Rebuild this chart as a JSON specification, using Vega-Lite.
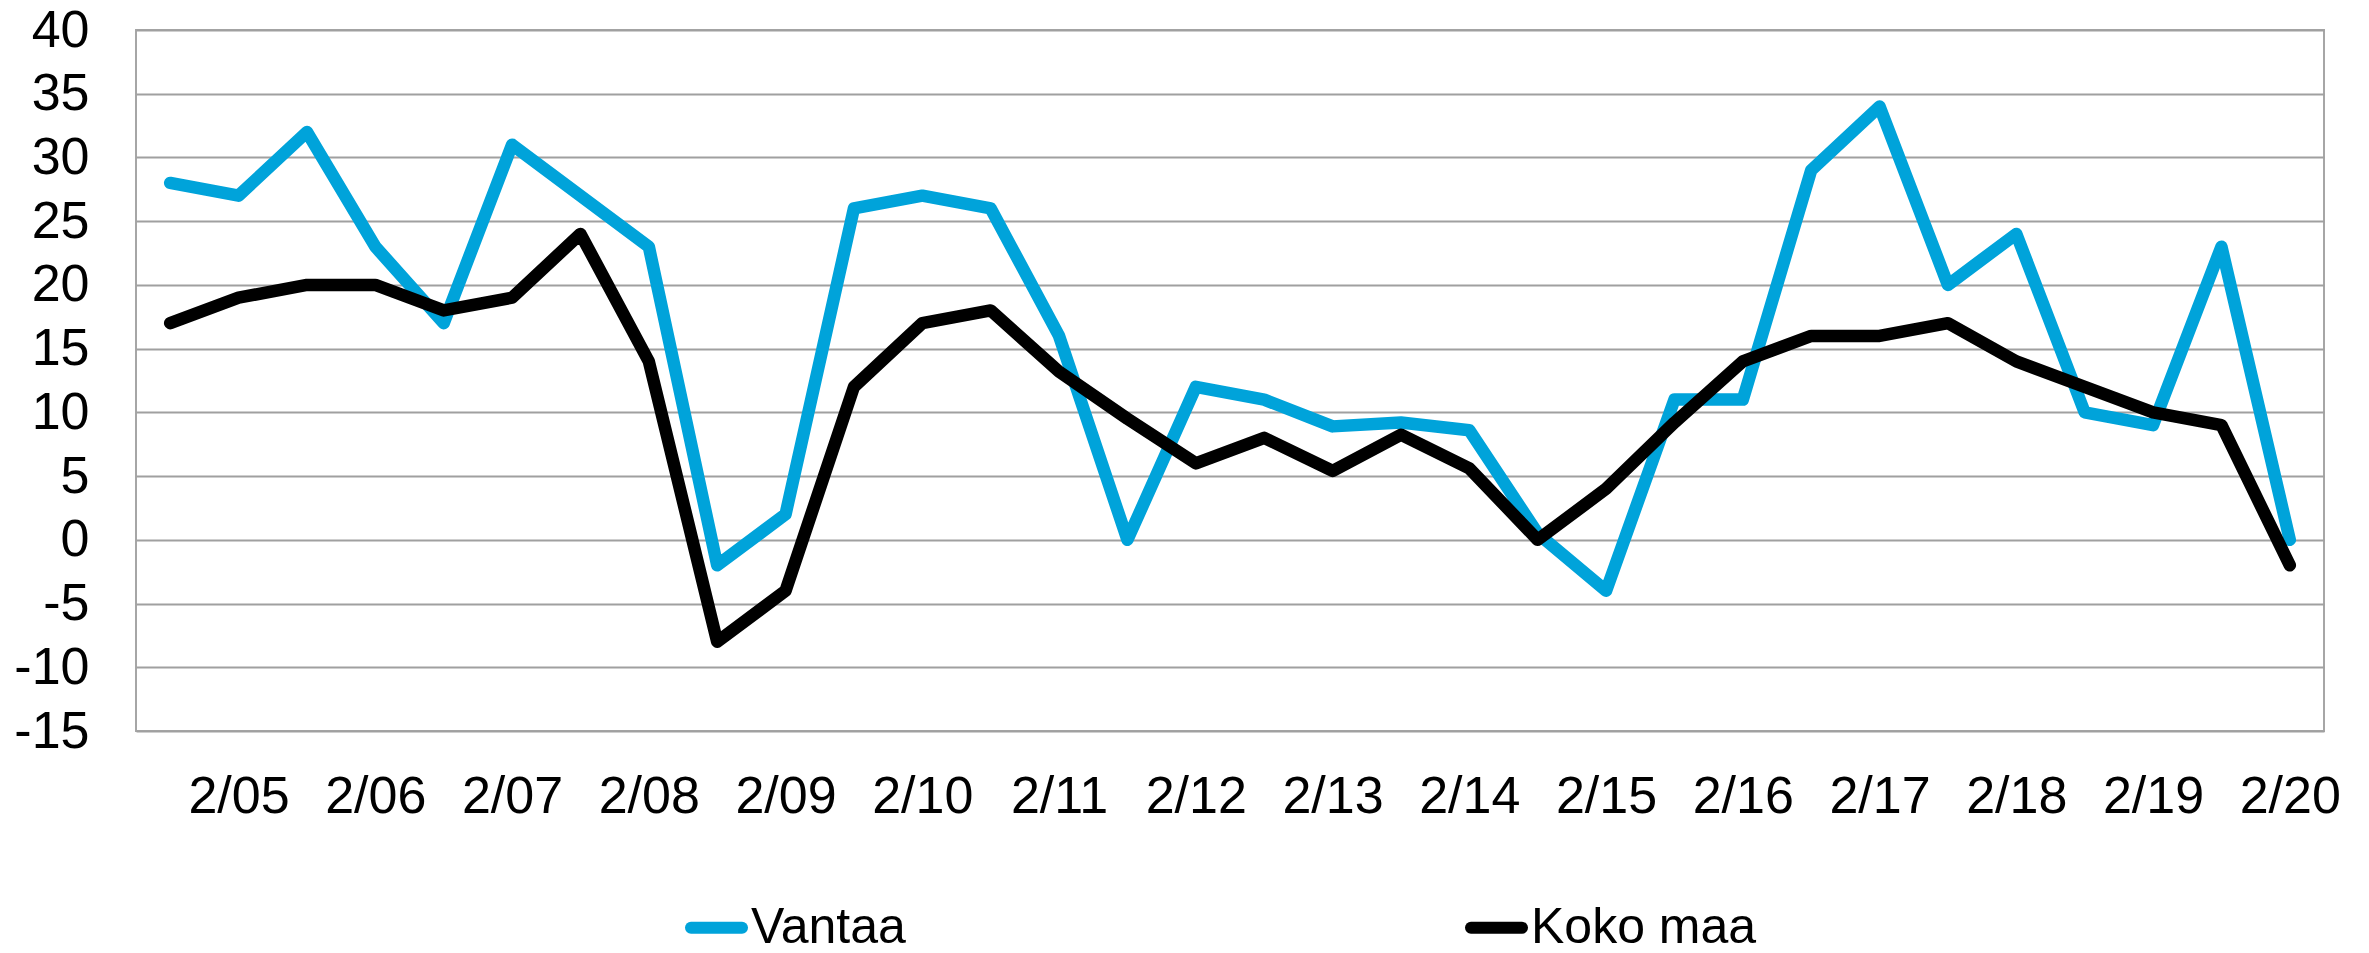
{
  "$schema": "https://vega.github.io/schema/vega-lite/v6.json",
  "width": 2188,
  "height": 701,
  "autosize": "none",
  "padding": {"left": 136, "top": 30, "right": 45, "bottom": 222},
  "background": "white",
  "config": {
    "font": "Liberation Sans",
    "view": {"stroke": "#A6A6A6", "strokeWidth": 2}
  },
  "datasets": {
    "rows": [
      {"p":"1/05","s":"Vantaa","v":28},{"p":"2/05","s":"Vantaa","v":27},
      {"p":"1/06","s":"Vantaa","v":32},{"p":"2/06","s":"Vantaa","v":23},
      {"p":"1/07","s":"Vantaa","v":17},{"p":"2/07","s":"Vantaa","v":31},
      {"p":"1/08","s":"Vantaa","v":27},{"p":"2/08","s":"Vantaa","v":23},
      {"p":"1/09","s":"Vantaa","v":-2},{"p":"2/09","s":"Vantaa","v":2},
      {"p":"1/10","s":"Vantaa","v":26},{"p":"2/10","s":"Vantaa","v":27},
      {"p":"1/11","s":"Vantaa","v":26},{"p":"2/11","s":"Vantaa","v":16},
      {"p":"1/12","s":"Vantaa","v":0},{"p":"2/12","s":"Vantaa","v":12},
      {"p":"1/13","s":"Vantaa","v":11},{"p":"2/13","s":"Vantaa","v":8.9},
      {"p":"1/14","s":"Vantaa","v":9.2},{"p":"2/14","s":"Vantaa","v":8.6},
      {"p":"1/15","s":"Vantaa","v":0.5},{"p":"2/15","s":"Vantaa","v":-4},
      {"p":"1/16","s":"Vantaa","v":11},{"p":"2/16","s":"Vantaa","v":11},
      {"p":"1/17","s":"Vantaa","v":29},{"p":"2/17","s":"Vantaa","v":34},
      {"p":"1/18","s":"Vantaa","v":20},{"p":"2/18","s":"Vantaa","v":24},
      {"p":"1/19","s":"Vantaa","v":10},{"p":"2/19","s":"Vantaa","v":9},
      {"p":"1/20","s":"Vantaa","v":23},{"p":"2/20","s":"Vantaa","v":0},
      {"p":"1/05","s":"Koko maa","v":17},{"p":"2/05","s":"Koko maa","v":19},
      {"p":"1/06","s":"Koko maa","v":20},{"p":"2/06","s":"Koko maa","v":20},
      {"p":"1/07","s":"Koko maa","v":18},{"p":"2/07","s":"Koko maa","v":19},
      {"p":"1/08","s":"Koko maa","v":24},{"p":"2/08","s":"Koko maa","v":14},
      {"p":"1/09","s":"Koko maa","v":-8},{"p":"2/09","s":"Koko maa","v":-4},
      {"p":"1/10","s":"Koko maa","v":12},{"p":"2/10","s":"Koko maa","v":17},
      {"p":"1/11","s":"Koko maa","v":18},{"p":"2/11","s":"Koko maa","v":13.2},
      {"p":"1/12","s":"Koko maa","v":9.5},{"p":"2/12","s":"Koko maa","v":6},
      {"p":"1/13","s":"Koko maa","v":8},{"p":"2/13","s":"Koko maa","v":5.4},
      {"p":"1/14","s":"Koko maa","v":8.25},{"p":"2/14","s":"Koko maa","v":5.6},
      {"p":"1/15","s":"Koko maa","v":0},{"p":"2/15","s":"Koko maa","v":4},
      {"p":"1/16","s":"Koko maa","v":9.2},{"p":"2/16","s":"Koko maa","v":14},
      {"p":"1/17","s":"Koko maa","v":16},{"p":"2/17","s":"Koko maa","v":16},
      {"p":"1/18","s":"Koko maa","v":17},{"p":"2/18","s":"Koko maa","v":14},
      {"p":"1/19","s":"Koko maa","v":12},{"p":"2/19","s":"Koko maa","v":10},
      {"p":"1/20","s":"Koko maa","v":9},{"p":"2/20","s":"Koko maa","v":-2}
    ]
  },
  "data": {"name": "rows"},
  "mark": {"type": "line", "strokeWidth": 12.5, "strokeJoin": "round", "strokeCap": "round"},
  "encoding": {
    "x": {
      "field": "p",
      "type": "nominal",
      "sort": null,
      "title": null,
      "axis": {
        "values": ["2/05","2/06","2/07","2/08","2/09","2/10","2/11","2/12","2/13","2/14","2/15","2/16","2/17","2/18","2/19","2/20"],
        "labelAngle": 0,
        "labelFontSize": 52,
        "labelColor": "#000000",
        "labelPadding": 40,
        "labelOverlap": false,
        "ticks": false,
        "domain": false,
        "grid": false
      }
    },
    "y": {
      "field": "v",
      "type": "quantitative",
      "title": null,
      "scale": {"domain": [-15, 40], "nice": false, "zero": false},
      "axis": {
        "values": [-15,-10,-5,0,5,10,15,20,25,30,35,40],
        "labelExpr": "'' + datum.value",
        "labelFontSize": 52,
        "labelColor": "#000000",
        "labelPadding": 47,
        "ticks": false,
        "domain": false,
        "grid": true,
        "gridColor": "#A0A0A0",
        "gridWidth": 2
      }
    },
    "color": {
      "field": "s",
      "type": "nominal",
      "sort": ["Vantaa", "Koko maa"],
      "scale": {"domain": ["Vantaa", "Koko maa"], "range": ["#00A3DA", "#000000"]},
      "legend": {
        "title": null,
        "orient": "none",
        "direction": "horizontal",
        "legendX": 549,
        "legendY": 866,
        "symbolType": "stroke",
        "symbolSize": 2600,
        "symbolStrokeWidth": 12,
        "labelFontSize": 50,
        "labelColor": "#000000",
        "labelLimit": 0,
        "labelOffset": 3,
        "columnPadding": 541,
        "encode": {"symbols": {"update": {"strokeCap": {"value": "round"}}}}
      }
    }
  }
}
